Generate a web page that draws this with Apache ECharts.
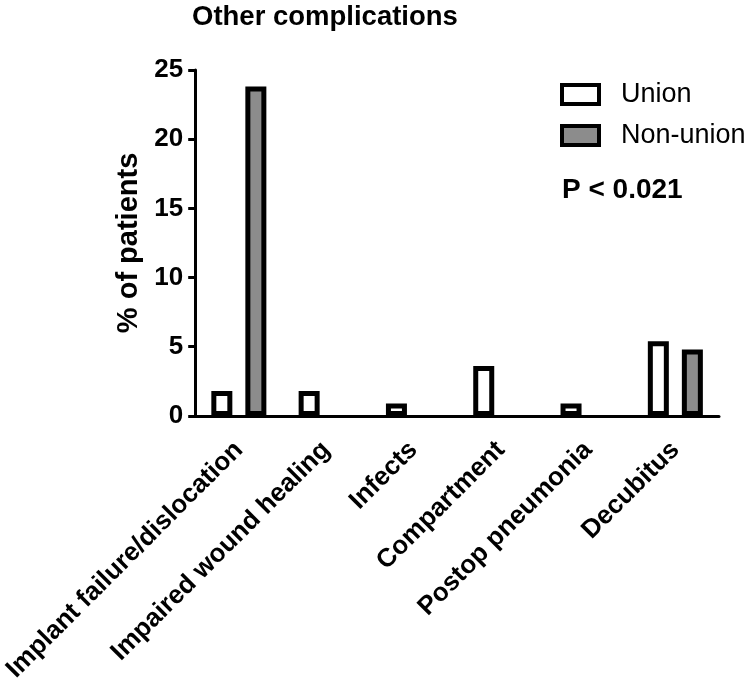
<!DOCTYPE html>
<html>
<head>
<meta charset="utf-8">
<script src="https://cdn.jsdelivr.net/npm/echarts@6/dist/echarts.min.js"></script>
<style>html,body{margin:0;padding:0;background:#fff}#c{width:750px;height:685px}</style>
</head>
<body>
<div id="c"></div>
<script>
const categories = ['Implant failure/dislocation', 'Impaired wound healing', 'Infects', 'Compartment', 'Postop pneumonia', 'Decubitus'];
const unionValues = [1.8, 1.8, 0.9, 3.6, 0.9, 5.4];
const nonUnionValues = [23.8, 0, 0, 0, 0, 4.8];
const yTicks = { min: 0, max: 25, interval: 5 };
const titleText = 'Other complications';
const yAxisTitle = '% of patients';
const pText = 'P < 0.021';

const FONT = '"Liberation Sans", Arial, Helvetica, sans-serif';
// zero-height bars are not drawn in the reference: hide their outline
const toBarData = arr => arr.map(v => v === 0 ? { value: v, itemStyle: { borderWidth: 0 } } : v);

const chart = echarts.init(document.getElementById('c'), null, { renderer: 'canvas' });
chart.setOption({
  backgroundColor: '#fff',
  animation: false,
  title: {
    text: titleText, left: 192, top: 3, padding: 0,
    textStyle: { fontFamily: FONT, fontWeight: 'bold', fontSize: 27.5, color: '#000' }
  },
  legend: {
    orient: 'vertical', left: 560, top: 81, itemGap: 14, padding: 0,
    itemWidth: 37, itemHeight: 19, icon: 'rect',
    itemStyle: { borderColor: '#000', borderWidth: 4 },
    textStyle: { fontFamily: FONT, fontSize: 27, color: '#000', lineHeight: 27, padding: [0, 0, 0, 17] },
    data: ['Union', 'Non-union']
  },
  graphic: [{
    type: 'text', left: 562, top: 176,
    style: { text: pText, font: 'bold 28px ' + FONT, fill: '#000' }
  }],
  grid: { left: 192, right: 31, top: 70, bottom: 267 },
  xAxis: {
    type: 'category', data: categories,
    axisLine: { lineStyle: { color: '#000', width: 3 } },
    axisTick: { alignWithLabel: true, length: 8, lineStyle: { color: '#000', width: 3 } },
    axisLabel: { rotate: 45, margin: 30, interval: 0, fontFamily: FONT, fontWeight: 'bold', fontSize: 26, color: '#000' }
  },
  yAxis: {
    type: 'value', min: yTicks.min, max: yTicks.max, interval: yTicks.interval,
    name: yAxisTitle, nameLocation: 'middle', nameRotate: 90, nameGap: 50,
    nameTextStyle: { fontFamily: FONT, fontWeight: 'bold', fontSize: 29, color: '#000' },
    splitLine: { show: false },
    axisLine: { show: true, lineStyle: { color: '#000', width: 3 } },
    axisTick: { show: true, length: 7, lineStyle: { color: '#000', width: 3 } },
    axisLabel: { margin: 12, fontFamily: FONT, fontWeight: 'bold', fontSize: 26, color: '#000' }
  },
  series: [
    {
      name: 'Union', type: 'bar', data: toBarData(unionValues), barWidth: 21, barGap: '62%',
      itemStyle: { color: '#fff', borderColor: '#000', borderWidth: 5 }
    },
    {
      name: 'Non-union', type: 'bar', data: toBarData(nonUnionValues), barWidth: 21,
      itemStyle: { color: '#8c8c8c', borderColor: '#000', borderWidth: 5 }
    }
  ]
});
</script>
</body>
</html>
